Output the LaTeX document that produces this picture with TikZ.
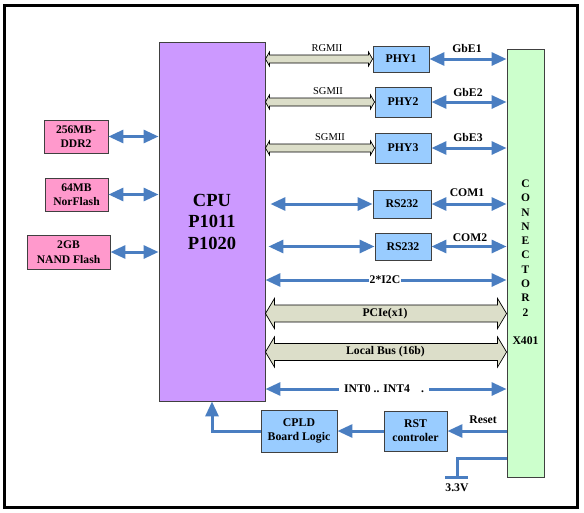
\documentclass[tikz,border=0pt]{standalone}
\usepackage{fontspec}
\setmainfont{Liberation Serif}
\usetikzlibrary{arrows.meta,calc}
\definecolor{cpuc}{HTML}{CC99FF}
\definecolor{pinkc}{HTML}{FF99CC}
\definecolor{bluec}{HTML}{99CCFF}
\definecolor{greenc}{HTML}{CCFFCC}
\definecolor{busc}{HTML}{DCDEC9}
\definecolor{arrc}{HTML}{4A7EC1}
\definecolor{edgec}{HTML}{404040}
\tikzset{
  box/.style={draw=edgec, line width=0.9pt, inner sep=0pt, align=center,
    font=\bfseries\fontsize{11.8}{14}\selectfont},
  pinkbox/.style={box, fill=pinkc, font=\bfseries\fontsize{11.6}{14.5}\selectfont},
  bluebox/.style={box, fill=bluec},
  barr/.style={arrc, line width=3pt,
    {Triangle[length=15pt,width=13pt]}-{Triangle[length=15pt,width=13pt]}},
  sarr/.style={arrc, line width=3pt, -{Triangle[length=15pt,width=13pt]}},
  lbl/.style={font=\fontsize{10.5}{12}\selectfont, inner sep=1pt},
  blbl/.style={font=\bfseries\fontsize{11.7}{13}\selectfont, inner sep=1pt},
  busfill/.style={fill=busc, draw=black, line width=0.7pt},
}
% bus arrow between two named coordinates: #1 left, #2 right, #3 band half, #4 head half, #5 head length
\newcommand\busarrow[5]{%
  \filldraw[busfill] (#1)
    .. controls ($(#1)+(#5*0.5,-#4*0.5)$) .. ($(#1)+(#5,-#4)$)
    -- ($(#1)+(#5,-#3)$) -- ($(#2)+(-#5,-#3)$) -- ($(#2)+(-#5,-#4)$)
    .. controls ($(#2)+(-#5*0.5,-#4*0.5)$) .. (#2)
    .. controls ($(#2)+(-#5*0.5,#4*0.5)$) .. ($(#2)+(-#5,#4)$)
    -- ($(#2)+(-#5,#3)$) -- ($(#1)+(#5,#3)$) -- ($(#1)+(#5,#4)$)
    .. controls ($(#1)+(#5*0.5,#4*0.5)$) .. cycle;}
\begin{document}
\begin{tikzpicture}[x=1pt,y=-1pt]
\useasboundingbox (0,0) rectangle (584,512);
\draw[line width=3pt] (4,5) rectangle (577,507);

% main blocks
\node[box, fill=cpuc, minimum width=106pt, minimum height=359pt,
  font=\bfseries\fontsize{18.5}{21.5}\selectfont] (cpu) at (212,221.5) {CPU\\P1011\\P1020};
\node[box, fill=greenc, minimum width=37pt, minimum height=428pt] (conn) at (525.5,263) {};
\node[font=\bfseries\fontsize{11.5}{14.3}\selectfont, align=center, inner sep=0pt] (connl) at (525.5,248) {C\\O\\N\\N\\E\\C\\T\\O\\R\\2};
\node[blbl] (x401) at (525.5,341) {X401};

% memories
\node[pinkbox, minimum width=64pt, minimum height=33pt] (ddr) at (76,136.5) {256MB-\\DDR2};
\node[pinkbox, minimum width=63pt, minimum height=33pt] (nor) at (76.5,194.5) {64MB\\NorFlash};
\node[pinkbox, minimum width=83pt, minimum height=34pt] (nand) at (68.5,252) {2GB\\NAND Flash};
\draw[barr] (ddr.east) -- (ddr.east -| cpu.west);
\draw[barr] (nor.east) -- (nor.east -| cpu.west);
\draw[barr] (nand.east) -- (nand.east -| cpu.west);

% PHYs and RS232
\node[bluebox, minimum width=56pt, minimum height=26pt] (phy1) at (401,59) {PHY1};
\node[bluebox, minimum width=56pt, minimum height=30pt] (phy2) at (403,102) {PHY2};
\node[bluebox, minimum width=56pt, minimum height=30pt] (phy3) at (403,148) {PHY3};
\node[bluebox, minimum width=58pt, minimum height=28pt] (rs1) at (402,204) {RS232};
\node[bluebox, minimum width=56pt, minimum height=27pt] (rs2) at (403,246.5) {RS232};

\coordinate (b1) at (cpu.east |- phy1.west);
\coordinate (b2) at (cpu.east |- phy2.west);
\coordinate (b3) at (cpu.east |- phy3.west);
\busarrow{b1}{phy1.west}{4}{7}{4}
\busarrow{b2}{phy2.west}{4}{7}{4}
\busarrow{b3}{phy3.west}{4}{7}{4}
\node[lbl] (l1) at (327,48) {RGMII};
\node[lbl] (l2) at (328,91) {SGMII};
\node[lbl] (l3) at (330,137) {SGMII};

\draw[barr] (phy1.east) -- (phy1.east -| conn.west);
\draw[barr] (phy2.east) -- (phy2.east -| conn.west);
\draw[barr] (phy3.east) -- (phy3.east -| conn.west);
\draw[barr] (rs1.east) -- (rs1.east -| conn.west);
\draw[barr] (rs2.east) -- (rs2.east -| conn.west);
\node[blbl] (g1) at (467,48) {GbE1};
\node[blbl] (g2) at (468,92) {GbE2};
\node[blbl] (g3) at (468,137) {GbE3};
\node[blbl] (c1l) at (467,193) {COM1};
\node[blbl] (c2l) at (470,238) {COM2};

\coordinate (r1s) at ($(cpu.east |- rs1.west)+(5,0)$);
\coordinate (r2s) at ($(cpu.east |- rs2.west)+(3,0)$);
\draw[barr] (r1s) -- (rs1.west);
\draw[barr] (r2s) -- (rs2.west);

% I2C
\draw[barr] (cpu.east |- 0,280) -- (conn.west |- 0,280);
\node[blbl, fill=white] (i2c) at (385,280) {2*I2C};

% PCIe and Local bus
\coordinate (pa) at (cpu.east |- 0,313.5);
\coordinate (pb) at (conn.west |- 0,313.5);
\busarrow{pa}{pb}{8.5}{15}{9}
\node[blbl] (pcie) at (385,313.5) {PCIe(x1)};
\coordinate (la) at (cpu.east |- 0,352);
\coordinate (lb) at (conn.west |- 0,352);
\busarrow{la}{lb}{8.5}{15}{9}
\node[blbl] (lbus) at (385.5,352) {Local Bus (16b)};

% INT
\draw[barr] (cpu.east |- 0,389) -- (conn.west |- 0,389);
\node[blbl, fill=white, inner xsep=5pt] (int) at (384,389) {INT0 .. INT4\hspace{11pt}.};

% reset chain
\node[bluebox, minimum width=76pt, minimum height=42pt] (cpld) at (299,431) {CPLD\\Board Logic};
\node[bluebox, minimum width=63pt, minimum height=40pt] (rst) at (415.5,431) {RST\\controler};
\draw[sarr] (conn.west |- rst.east) -- (rst.east);
\node[blbl] (reset) at (483,420) {Reset};
\draw[sarr] (rst.west) -- (cpld.east);
\draw[sarr] (cpld.west) -| (cpu.south);

% 3.3V
\coordinate (gnd) at (457,477);
\draw[arrc, line width=3pt] (conn.west |- 0,458) -| (gnd);
\draw[arrc, line width=3pt] ($(gnd)+(-12,0)$) -- ($(gnd)+(11,0)$);
\node[blbl] (v33) at (457,488) {3.3V};
\end{tikzpicture}
\end{document}
